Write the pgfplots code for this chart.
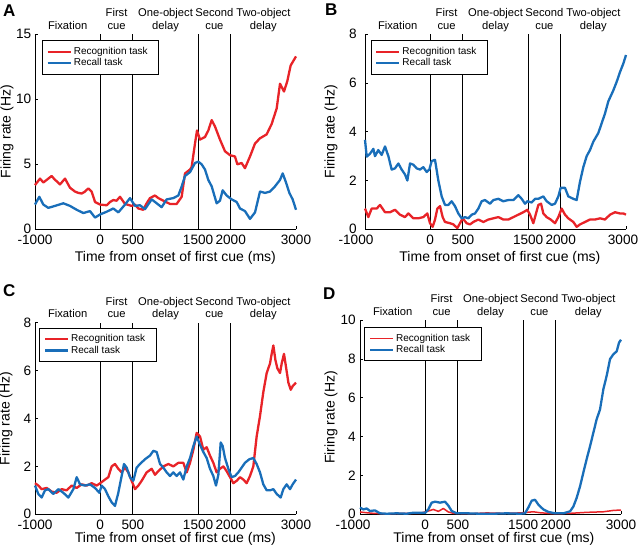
\documentclass[border=0pt]{standalone}
\usepackage{pgfplots}
\pgfplotsset{compat=1.18}
\usepackage{fontspec}
\setmainfont{Liberation Sans}
\definecolor{cred}{RGB}{232,35,40}
\definecolor{cblue}{RGB}{25,110,185}
\tikzset{ph/.style={anchor=base, font=\fontsize{11.2}{13}\selectfont, inner sep=0pt}}
\pgfplotsset{
 panel/.style={
  scale only axis, width=261pt,
  axis x line*=bottom, axis y line*=left,
  xmin=-1000, xmax=3000, ymin=0,
  xtick={-1000,0,500,1500,2000,3000},
  tick align=inside, major tick length=3pt,
  tick style={black, line width=0.8pt},
  axis line style={black, line width=0.9pt},
  tick label style={font=\fontsize{13.6}{16}\selectfont, inner sep=0pt},
  xticklabel style={yshift=-6pt},
  label style={font=\fontsize{14}{16}\selectfont},
  xlabel={Time from onset of first cue (ms)},
  ylabel={Firing rate (Hz)},
  clip=false,
  legend style={anchor=north west, font=\fontsize{10}{12}\selectfont,
    draw=black, line width=0.9pt, inner xsep=4pt, inner ysep=4.6pt,
    row sep=-1.4pt, cells={anchor=west},
    nodes={inner sep=2pt, text depth=0.15em}},
  legend image code/.code={\draw[#1] (0pt,0pt) -- (23pt,0pt);},
 },
 rline/.style={cred, line width=2.3pt, line join=round},
 bline/.style={cblue, line width=2.3pt, line join=round},
 vline/.style={black, line width=1.1pt, forget plot},
}
\newcommand{\phases}[1]{%
 \addplot[vline] coordinates {(0,0) (0,#1)};
 \addplot[vline] coordinates {(500,0) (500,#1)};
 \addplot[vline] coordinates {(1500,0) (1500,#1)};
 \addplot[vline] coordinates {(2000,0) (2000,#1)};
 \node[ph, yshift=5pt] at (axis cs:-500,#1) {Fixation};
 \node[ph, yshift=17.7pt] at (axis cs:250,#1) {First};
 \node[ph, yshift=5pt] at (axis cs:250,#1) {cue};
 \node[ph, yshift=17.7pt] at (axis cs:1000,#1) {One-object};
 \node[ph, yshift=5pt] at (axis cs:1000,#1) {delay};
 \node[ph, yshift=17.7pt] at (axis cs:1750,#1) {Second};
 \node[ph, yshift=5pt] at (axis cs:1750,#1) {cue};
 \node[ph, yshift=17.7pt] at (axis cs:2500,#1) {Two-object};
 \node[ph, yshift=5pt] at (axis cs:2500,#1) {delay};
}
\begin{document}
\begin{tikzpicture}
\useasboundingbox (0,0) rectangle (640pt,553pt);
% ---------------- A
\begin{axis}[panel, at={(35pt,323.7pt)}, anchor=south west, height=195pt,
  ymax=15, ytick={0,5,10,15}, yticklabels={0,5,10,15},
  xticklabels={-1000,0,500,1500,2000,3000},
  yticklabel style={xshift=-3.5pt},
  xlabel style={at={(axis description cs:0.538,-0.146)}, anchor=center},
  ylabel style={at={(axis description cs:-0.107,0.5)}, anchor=center},
  legend style={at={(axis description cs:0.027,0.969)}}]
\phases{15}
\addplot[rline] coordinates {(-1000,3.4) (-923,3.9) (-872,3.6) (-821,3.8) (-745,4.1) (-693,3.8) (-668,3.7) (-617,3.45) (-540,3.9) (-464,3.2) (-387,2.9) (-336,2.8) (-285,2.75) (-234,2.9) (-183,3.15) (-132,2.9) (-80,2.1) (0,1.9) (98,1.85) (150,2.1) (200,2.25) (250,2.2) (303,2.5) (379,1.95) (481,1.8) (533,1.9) (584,1.6) (660,1.5) (711,2.0) (762,2.4) (839,2.6) (890,2.4) (967,2.2) (1069,1.95) (1171,1.95) (1248,2.5) (1299,4.3) (1376,4.6) (1401,4.8) (1452,6.6) (1483,7.6) (1529,6.9) (1605,7.1) (1656,7.6) (1708,8.4) (1759,7.9) (1835,6.9) (1912,6.0) (1989,5.7) (2065,5.6) (2101,5.0) (2167,5.1) (2218,4.7) (2295,5.6) (2372,6.6) (2448,7.0) (2550,7.3) (2627,8.1) (2704,9.3) (2755,11.2) (2816,10.6) (2867,11.4) (2918,12.6) (3000,13.3)};
\addlegendentry{Recognition task\hspace*{5pt}}
\addplot[bline] coordinates {(-1000,1.9) (-934,2.5) (-872,1.9) (-796,1.65) (-693,1.8) (-566,2.0) (-464,1.8) (-361,1.5) (-259,1.25) (-157,1.4) (-80,0.9) (0,1.15) (98,1.35) (200,1.6) (277,1.3) (379,1.9) (456,2.4) (533,1.8) (609,1.85) (686,1.55) (788,2.3) (865,2.0) (941,1.7) (1018,2.3) (1120,2.4) (1197,2.6) (1248,3.3) (1299,4.1) (1376,4.4) (1452,5.1) (1503,5.2) (1554,5.0) (1605,4.6) (1656,3.8) (1708,3.3) (1784,2.0) (1835,2.2) (1876,3.0) (1937,2.6) (2014,2.3) (2091,2.1) (2142,1.6) (2218,1.4) (2295,0.8) (2372,1.3) (2448,2.9) (2525,2.8) (2602,2.9) (2678,3.3) (2755,3.8) (2796,4.3) (2847,3.6) (2898,2.8) (2949,2.3) (3000,1.5)};
\addlegendentry{Recall task}
\end{axis}
% ---------------- B
\begin{axis}[panel, at={(365pt,323.7pt)}, anchor=south west, height=195pt,
  ymax=8, ytick={0,2,4,6,8}, yticklabels={0,2,4,6,8},
  xticklabels={-1000\hspace*{18pt},0,500,1500,2000,3000\hspace*{6pt}},
  yticklabel style={xshift=-8pt},
  xlabel style={at={(axis description cs:0.517,-0.146)}, anchor=center},
  ylabel style={at={(axis description cs:-0.130,0.5)}, anchor=center},
  legend style={at={(axis description cs:0.022,0.969)}}]
\phases{8}
\addplot[rline] coordinates {(-1000,0.85) (-949,0.5) (-898,0.85) (-821,0.85) (-770,1.0) (-693,0.7) (-617,0.7) (-540,0.8) (-464,0.6) (-387,0.5) (-336,0.65) (-259,0.45) (-183,0.45) (-106,0.5) (-45,0.65) (-4,0.25) (37,0.1) (73,0.4) (109,0.85) (150,0.95) (190,0.5) (226,0.3) (303,0.25) (354,0.2) (415,0.05) (456,0.25) (497,0.45) (558,0.25) (609,0.2) (660,0.3) (737,0.4) (814,0.3) (890,0.4) (967,0.45) (1044,0.5) (1120,0.4) (1197,0.4) (1274,0.5) (1350,0.6) (1427,0.7) (1488,0.8) (1529,0.6) (1580,0.25) (1621,0.65) (1657,1.0) (1698,1.05) (1733,0.65) (1784,0.5) (1846,0.4) (1912,0.25) (1963,0.5) (2014,0.85) (2065,0.6) (2116,0.45) (2193,0.3) (2244,0.1) (2295,0.2) (2372,0.3) (2448,0.4) (2525,0.4) (2602,0.45) (2678,0.4) (2755,0.6) (2832,0.7) (2908,0.65) (2959,0.65) (3000,0.6)};
\addlegendentry{Recognition task\hspace*{5pt}}
\addplot[bline] coordinates {(-1000,3.67) (-974,2.98) (-923,3.1) (-872,3.3) (-847,3.0) (-796,3.25) (-745,3.05) (-693,3.4) (-642,3.0) (-591,2.45) (-540,2.5) (-489,2.7) (-438,2.45) (-387,2.25) (-351,2.0) (-310,2.7) (-259,2.65) (-208,2.5) (-157,2.45) (-106,2.55) (-55,2.35) (-14,2.45) (22,2.8) (73,2.85) (124,2.0) (175,1.35) (226,1.0) (277,1.0) (328,1.15) (379,0.95) (430,0.65) (482,0.45) (533,0.5) (584,0.45) (635,0.6) (686,0.65) (737,0.85) (788,1.15) (839,1.2) (916,1.05) (967,1.2) (1044,1.25) (1120,1.15) (1197,1.2) (1274,1.2) (1350,1.4) (1401,1.25) (1452,1.05) (1488,1.15) (1554,1.1) (1606,1.25) (1657,1.25) (1733,1.35) (1784,1.15) (1861,1.0) (1912,1.05) (1963,1.35) (1999,1.7) (2065,1.7) (2116,1.35) (2193,1.25) (2244,1.2) (2295,1.95) (2346,2.55) (2397,3.0) (2448,3.25) (2500,3.6) (2576,3.95) (2627,4.35) (2678,4.75) (2729,5.25) (2806,5.7) (2857,6.05) (2908,6.45) (2959,6.8) (3000,7.15)};
\addlegendentry{Recall task}
\end{axis}
% ---------------- C
\begin{axis}[panel, at={(35pt,38.7pt)}, anchor=south west, height=191.6pt,
  ymax=8, ytick={0,2,4,6,8}, yticklabels={0,2,4,6,8},
  xticklabels={-1000,0,500,1500,2000,3000},
  yticklabel style={xshift=-3.5pt},
  xlabel style={at={(axis description cs:0.538,-0.128)}, anchor=center},
  ylabel style={at={(axis description cs:-0.111,0.5)}, anchor=center},
  legend style={at={(axis description cs:0.017,0.974)}}]
\phases{8}
\addplot[rline] coordinates {(-1000,1.3) (-949,1.2) (-898,1.05) (-821,1.1) (-745,0.95) (-668,0.9) (-591,1.05) (-515,1.0) (-438,1.2) (-361,1.1) (-285,1.25) (-208,1.2) (-132,1.3) (-55,1.2) (0,1.3) (73,1.45) (124,1.55) (175,2.0) (226,2.1) (277,1.9) (328,1.75) (379,1.95) (430,1.75) (481,1.4) (533,1.05) (584,1.2) (635,1.4) (711,1.75) (788,1.9) (839,1.65) (890,1.8) (967,2.0) (1044,2.1) (1120,2.0) (1197,2.15) (1273,2.15) (1325,1.75) (1376,2.15) (1427,2.7) (1478,3.4) (1529,3.25) (1580,2.7) (1631,2.8) (1682,2.45) (1733,2.15) (1784,1.75) (1835,1.9) (1887,2.0) (1937,1.8) (1989,1.55) (2040,1.3) (2091,1.4) (2142,1.55) (2193,1.45) (2244,1.3) (2295,1.6) (2346,2.0) (2397,3.25) (2448,4.1) (2499,5.1) (2551,5.9) (2602,6.3) (2627,6.7) (2653,7.05) (2684,6.45) (2714,6.1) (2755,5.9) (2781,6.3) (2816,6.7) (2847,6.15) (2883,5.5) (2919,5.2) (2949,5.35) (3000,5.5)};
\addlegendentry{Recognition task\hspace*{5pt}}
\addplot[bline] coordinates {(-1000,1.2) (-949,0.85) (-898,0.7) (-847,1.0) (-796,1.05) (-719,0.85) (-642,1.05) (-566,0.9) (-489,0.7) (-412,1.05) (-361,1.55) (-310,1.25) (-234,1.2) (-157,1.25) (-80,1.1) (-14,0.9) (22,1.2) (73,1.05) (124,0.75) (175,0.5) (226,0.35) (277,0.9) (328,1.6) (364,2.1) (405,1.95) (456,1.55) (507,1.4) (558,1.95) (609,2.1) (686,2.3) (762,2.45) (814,2.65) (865,2.6) (916,2.1) (967,1.95) (1018,1.75) (1069,1.6) (1120,1.75) (1171,1.6) (1222,1.75) (1273,1.45) (1325,2.0) (1376,2.35) (1427,2.85) (1478,3.25) (1529,2.9) (1580,2.6) (1631,2.35) (1682,1.9) (1733,1.6) (1774,1.2) (1810,1.65) (1846,3.0) (1876,2.85) (1912,2.35) (1963,1.9) (2014,1.55) (2065,1.6) (2116,1.75) (2167,1.95) (2218,2.15) (2285,2.3) (2346,2.35) (2397,2.1) (2448,1.75) (2499,1.25) (2551,1.0) (2602,1.0) (2653,1.05) (2704,0.85) (2765,0.7) (2806,1.05) (2857,1.25) (2908,1.05) (2949,1.25) (3000,1.45)};
\addlegendentry{Recall task}
\end{axis}
% ---------------- D
\begin{axis}[panel, at={(360pt,38.7pt)}, anchor=south west, height=194pt,
  ymax=10, ytick={0,2,4,6,8,10}, yticklabels={0,2,4,6,8,10},
  xticklabels={-1000\hspace*{14pt},0,500,1500,2000,3000},
  yticklabel style={xshift=-4pt},
  xlabel style={at={(axis description cs:0.513,-0.126)}, anchor=center},
  ylabel style={at={(axis description cs:-0.111,0.5)}, anchor=center},
  legend style={at={(axis description cs:0.017,0.965)}}]
\phases{10}
\addplot[rline, line width=1.5pt] coordinates {(-1000,0.12) (-898,0.08) (-796,0.05) (-591,0.02) (-336,0.05) (-80,0.05) (47,0.17) (124,0.25) (201,0.15) (277,0.3) (354,0.12) (431,0.05) (686,0.03) (941,0.07) (1197,0.05) (1452,0.07) (1657,0.13) (1759,0.08) (1963,0.03) (2219,0.05) (2474,0.1) (2730,0.13) (2883,0.2) (3000,0.22)};
\addlegendentry{Recognition task\hspace*{5pt}}
\addplot[bline] coordinates {(-1000,0.35) (-949,0.25) (-898,0.3) (-847,0.17) (-770,0.2) (-693,0.05) (-591,0.03) (-438,0.05) (-285,0.03) (-183,0.08) (-80,0.08) (0,0.08) (47,0.25) (98,0.6) (150,0.65) (226,0.6) (303,0.65) (354,0.45) (405,0.17) (482,0.05) (635,0.05) (839,0.03) (1044,0.03) (1248,0.05) (1452,0.03) (1529,0.05) (1580,0.35) (1631,0.7) (1682,0.75) (1733,0.5) (1810,0.25) (1887,0.12) (1989,0.05) (2116,0.05) (2219,0.15) (2270,0.4) (2321,0.85) (2373,1.45) (2423,2.15) (2474,2.85) (2525,3.5) (2576,4.2) (2627,4.9) (2678,5.4) (2730,6.45) (2781,7.15) (2832,8.0) (2883,8.25) (2934,8.4) (2970,8.85) (3000,9.0)};
\addlegendentry{Recall task}
\end{axis}
% panel letters
\node[anchor=north west, inner sep=0pt, font=\bfseries\fontsize{17}{17}\selectfont] at (3pt,548pt) {A};
\node[anchor=north west, inner sep=0pt, font=\bfseries\fontsize{17}{17}\selectfont] at (325pt,549.5pt) {B};
\node[anchor=north west, inner sep=0pt, font=\bfseries\fontsize{17}{17}\selectfont] at (3pt,269pt) {C};
\node[anchor=north west, inner sep=0pt, font=\bfseries\fontsize{17}{17}\selectfont] at (323pt,265pt) {D};
\end{tikzpicture}
\end{document}
